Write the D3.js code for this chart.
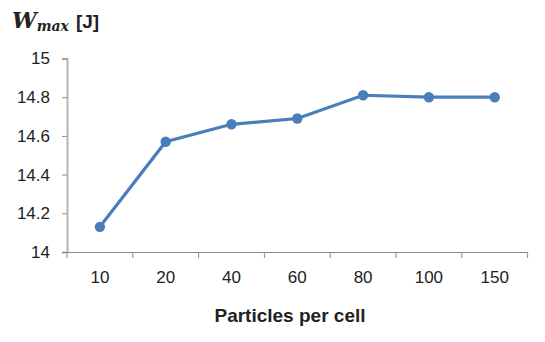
<!DOCTYPE html>
<html>
<head>
<meta charset="utf-8">
<script src="https://cdn.jsdelivr.net/npm/d3@7"></script>
<style>
  body { margin: 0; background: #fff; }
  svg text { font-family: "Liberation Sans", Arial, sans-serif; fill: #222; }
</style>
</head>
<body>
<div id="chart"></div>
<script>
var categories = ["10", "20", "40", "60", "80", "100", "150"];
var wmax = [14.13, 14.57, 14.66, 14.69, 14.81, 14.80, 14.80];
var yTicks = [14, 14.2, 14.4, 14.6, 14.8, 15];

var width = 545,
    height = 342;

var svg = d3.select("#chart").append("svg")
    .attr("width", width)
    .attr("height", height);

var x = d3.scaleBand()
    .domain(categories)
    .range([67, 527.6]);

var y = d3.scaleLinear()
    .domain([14, 15])
    .range([252, 58.5]);

// y axis
var yAxis = svg.append("g")
    .attr("transform", "translate(67,0)")
    .call(d3.axisLeft(y)
        .tickValues(yTicks)
        .tickSize(5)
        .tickPadding(12)
        .tickFormat(function(d) { return String(+d.toFixed(1)); }));
yAxis.select(".domain").attr("stroke", "#b3b3b3").attr("stroke-width", 2);
yAxis.selectAll(".tick line").attr("stroke", "#8c8c8c");
yAxis.selectAll(".tick text").attr("font-size", 17).attr("fill", "#222");

// x axis, Excel style: ticks between categories
var xAxis = svg.append("g")
    .attr("transform", "translate(0,252)")
    .call(d3.axisBottom(x).tickSize(0).tickPadding(19));
xAxis.select(".domain").attr("stroke", "#8c8c8c").attr("stroke-width", 1);
xAxis.selectAll(".tick text").attr("font-size", 17).attr("fill", "#222");

var bounds = categories.map(function(c) { return x(c); }).concat([x.range()[1]]);
xAxis.selectAll(".sep")
    .data(bounds).enter()
    .append("line")
    .attr("class", "sep")
    .attr("x1", function(d) { return d; })
    .attr("x2", function(d) { return d; })
    .attr("y1", 0)
    .attr("y2", 6)
    .attr("stroke", "#8c8c8c");

// series
var pts = categories.map(function(c, i) { return {c: c, v: wmax[i]}; });

var line = d3.line()
    .x(function(d) { return x(d.c) + x.bandwidth() / 2; })
    .y(function(d) { return y(d.v); });

svg.append("path")
    .datum(pts)
    .attr("d", line)
    .attr("fill", "none")
    .attr("stroke", "#4a7ebb")
    .attr("stroke-width", 3.2);

svg.selectAll("circle.pt")
    .data(pts).enter()
    .append("circle")
    .attr("class", "pt")
    .attr("cx", function(d) { return x(d.c) + x.bandwidth() / 2; })
    .attr("cy", function(d) { return y(d.v); })
    .attr("r", 5.2)
    .attr("fill", "#4a7ebb");

// axis title
svg.append("text")
    .attr("x", 290)
    .attr("y", 322)
    .attr("text-anchor", "middle")
    .attr("font-size", 19)
    .attr("font-weight", "bold")
    .text("Particles per cell");

// y title W_max [J]
var t = svg.append("text")
    .attr("x", 12)
    .attr("y", 28);
t.append("tspan")
    .attr("font-family", "'DejaVu Serif', serif")
    .attr("font-style", "italic")
    .attr("font-weight", "bold")
    .attr("font-size", 22)
    .text("W");
t.append("tspan")
    .attr("font-family", "'DejaVu Serif', serif")
    .attr("font-style", "italic")
    .attr("font-weight", "bold")
    .attr("font-size", 14)
    .attr("dy", 3)
    .text("max");
t.append("tspan")
    .attr("font-weight", "bold")
    .attr("font-size", 19)
    .attr("dx", 7)
    .attr("dy", -3)
    .text("[J]");
</script>
</body>
</html>
